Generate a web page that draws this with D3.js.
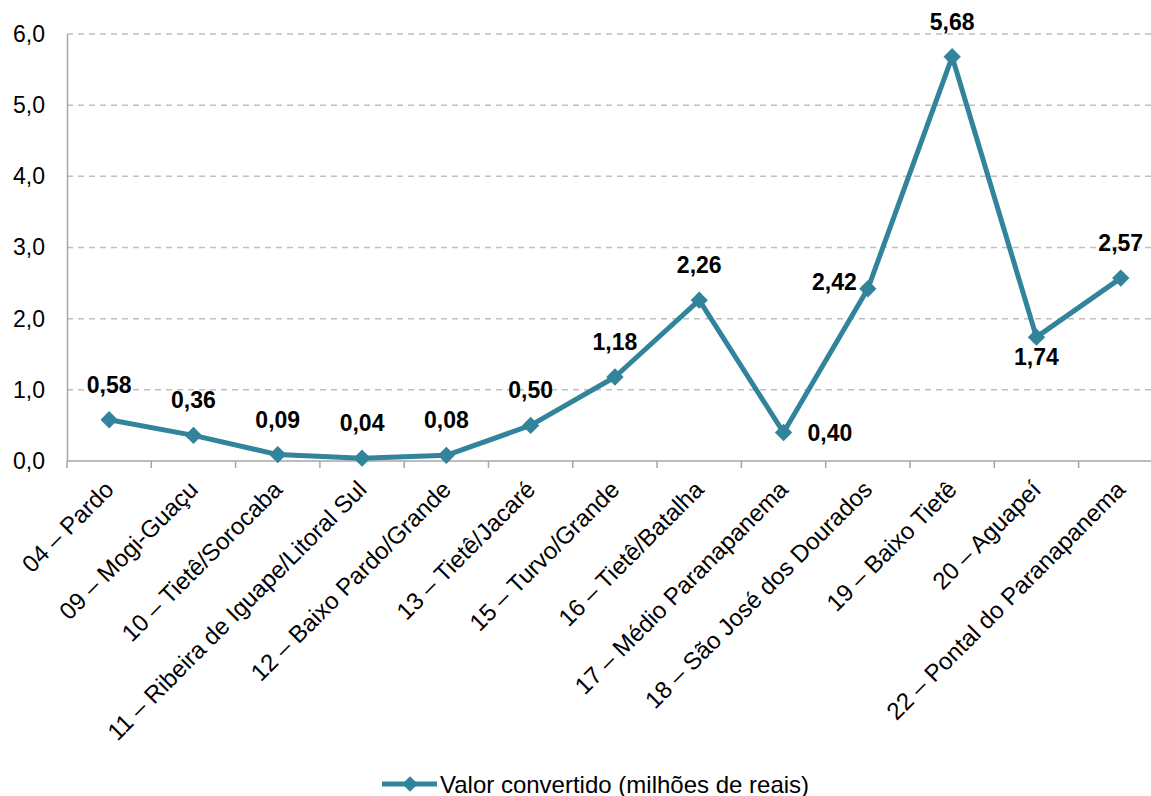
<!DOCTYPE html>
<html>
<head>
<meta charset="utf-8">
<script src="https://cdn.jsdelivr.net/npm/d3@7"></script>
<style>
  html, body { margin: 0; padding: 0; background: #fff; }
  svg { display: block; font-family: "Liberation Sans", Arial, sans-serif; }
</style>
</head>
<body>
<svg id="chart" width="1151" height="796"></svg>
<script>
// Basins (UGRHI) and converted value in millions of reais
const categories = [
  "04 – Pardo", "09 – Mogi-Guaçu", "10 – Tietê/Sorocaba",
  "11 – Ribeira de Iguape/Litoral Sul", "12 – Baixo Pardo/Grande",
  "13 – Tietê/Jacaré", "15 – Turvo/Grande", "16 – Tietê/Batalha",
  "17 – Médio Paranapanema", "18 – São José dos Dourados",
  "19 – Baixo Tietê", "20 – Aguapeí", "22 – Pontal do Paranapanema"
];
const values = [0.58, 0.36, 0.09, 0.04, 0.08, 0.50, 1.18, 2.26, 0.40, 2.42, 5.68, 1.74, 2.57];
// where each value label sits relative to its marker
const labelPlacement = ["above", "above", "above", "above", "above", "above", "above", "above",
                        "right", "left", "above", "below", "above"];
const yTicks = [0, 1, 2, 3, 4, 5, 6];
const seriesName = "Valor convertido (milhões de reais)";

const color = "#31849B";
const fmt = v => d3.format(".2f")(v).replace(".", ",");
const fmtTick = v => d3.format(".1f")(v).replace(".", ",");

const svg = d3.select("#chart");
const margin = { left: 67, top: 34, bottom: 461 };
const plotRight = 67 + 84.3 * categories.length;

const x = d3.scaleBand().domain(categories).range([margin.left, plotRight]).padding(0);
const y = d3.scaleLinear().domain([0, 6]).range([margin.bottom, margin.top]);

// dashed horizontal gridlines
svg.append("g")
  .selectAll("line")
  .data(yTicks.filter(t => t > 0))
  .join("line")
  .attr("x1", margin.left).attr("x2", plotRight)
  .attr("y1", d => y(d)).attr("y2", d => y(d))
  .attr("stroke", "#BFBFBF").attr("stroke-width", 1.5)
  .attr("stroke-dasharray", "6,5");

// y axis
const yAxis = svg.append("g")
  .attr("transform", `translate(${margin.left},0)`)
  .call(d3.axisLeft(y).tickValues(yTicks).tickFormat(fmtTick).tickSize(0).tickPadding(22));
yAxis.select(".domain").attr("stroke", "#A6A6A6").attr("stroke-width", 1.5);
yAxis.selectAll("text").attr("font-size", 23).attr("fill", "#000");

// x axis with tick marks at band boundaries
const xAxis = svg.append("g")
  .attr("transform", `translate(0,${margin.bottom})`);
xAxis.append("line")
  .attr("x1", margin.left).attr("x2", plotRight)
  .attr("stroke", "#A6A6A6").attr("stroke-width", 1.5);
xAxis.selectAll("line.tick")
  .data(categories)
  .join("line")
  .attr("class", "tick")
  .attr("x1", d => x(d)).attr("x2", d => x(d))
  .attr("y1", 0).attr("y2", 7)
  .attr("stroke", "#A6A6A6").attr("stroke-width", 1.5);
xAxis.selectAll("text")
  .data(categories)
  .join("text")
  .attr("transform", d => `translate(${x(d) + x.bandwidth() / 2 + 6},${30}) rotate(-45)`)
  .attr("text-anchor", "end")
  .attr("font-size", 24)
  .attr("fill", "#000")
  .text(d => d);

// series line
const cx = d => x(d) + x.bandwidth() / 2;
const line = d3.line().x((d, i) => cx(categories[i])).y(d => y(d));
svg.append("path")
  .datum(values)
  .attr("d", line)
  .attr("fill", "none")
  .attr("stroke", color)
  .attr("stroke-width", 5)
  .attr("stroke-linejoin", "round");

// diamond markers
svg.append("g")
  .selectAll("path")
  .data(values)
  .join("path")
  .attr("transform", (d, i) => `translate(${cx(categories[i])},${y(d)}) rotate(45)`)
  .attr("d", d3.symbol().type(d3.symbolSquare).size(150))
  .attr("fill", color);

// value labels
svg.append("g")
  .selectAll("text")
  .data(values)
  .join("text")
  .each(function (d, i) {
    const px = cx(categories[i]), py = y(d);
    const pos = labelPlacement[i];
    const t = d3.select(this);
    if (pos === "above") t.attr("x", px).attr("y", py - 27).attr("text-anchor", "middle");
    else if (pos === "below") t.attr("x", px).attr("y", py + 28).attr("text-anchor", "middle");
    else if (pos === "right") t.attr("x", px + 24).attr("y", py + 8).attr("text-anchor", "start");
    else t.attr("x", px - 11).attr("y", py + 1).attr("text-anchor", "end");
  })
  .attr("font-size", 23)
  .attr("font-weight", "bold")
  .attr("fill", "#000")
  .text(d => fmt(d));

// legend
const legend = svg.append("g").attr("transform", "translate(382,784)");
legend.append("line").attr("x1", 0).attr("x2", 55)
  .attr("stroke", color).attr("stroke-width", 5);
legend.append("path")
  .attr("transform", "translate(28,0) rotate(45)")
  .attr("d", d3.symbol().type(d3.symbolSquare).size(120))
  .attr("fill", color);
legend.append("text").attr("x", 58).attr("y", 8.5)
  .attr("font-size", 24).attr("fill", "#000")
  .text(seriesName);
</script>
</body>
</html>
